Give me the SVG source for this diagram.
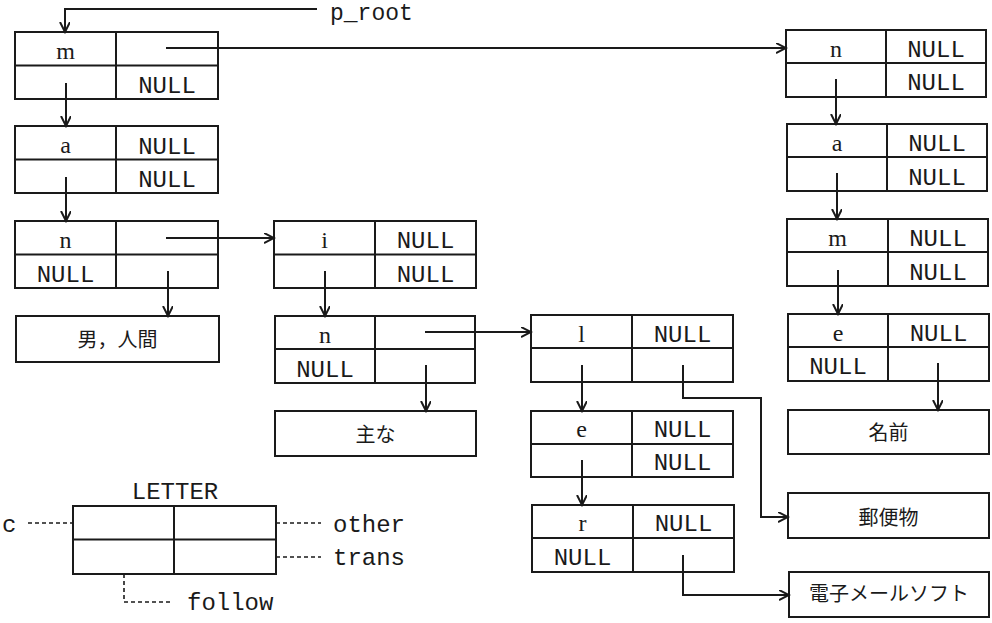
<svg xmlns="http://www.w3.org/2000/svg" width="992" height="623" viewBox="0 0 992 623">
<defs>
<marker id="ah" markerUnits="userSpaceOnUse" markerWidth="12" markerHeight="12" refX="10" refY="5" orient="auto">
<path d="M0,0 L10,5 L0,10" fill="none" stroke="#1a1a1a" stroke-width="2"/>
</marker>
</defs>
<style>
.b,line.d{fill:none;stroke:#1a1a1a;stroke-width:2}
.c line,.c polyline{fill:none;stroke:#1a1a1a;stroke-width:2;marker-end:url(#ah)}
.dash{fill:none;stroke:#1a1a1a;stroke-width:1.6;stroke-dasharray:4,3}
.m{font-family:"Courier New","Liberation Mono",monospace;font-size:24px;fill:#1a1a1a;text-anchor:middle}
.ml{font-family:"Courier New","Liberation Mono",monospace;font-size:24px;fill:#1a1a1a}
.s{font-family:"Liberation Serif",serif;font-size:24px;fill:#1a1a1a;text-anchor:middle}
.j{font-family:"Noto Sans CJK JP",sans-serif;font-size:20px;fill:#1a1a1a;text-anchor:middle}
</style>
<rect x="0" y="0" width="992" height="623" fill="#ffffff"/>

<g id="node-m1"><rect class="b" x="15" y="32" width="203" height="67"/><line class="d" x1="116" y1="32" x2="116" y2="99"/><line class="d" x1="15" y1="65.5" x2="218" y2="65.5"/><text class="s" x="65.5" y="59">m</text><text class="m" x="167" y="93">NULL</text></g>
<g id="node-a1"><rect class="b" x="15" y="126" width="203" height="67"/><line class="d" x1="116" y1="126" x2="116" y2="193"/><line class="d" x1="15" y1="159.5" x2="218" y2="159.5"/><text class="s" x="65.5" y="153">a</text><text class="m" x="167" y="154">NULL</text><text class="m" x="167" y="187">NULL</text></g>
<g id="node-n1"><rect class="b" x="15" y="221" width="203" height="67"/><line class="d" x1="116" y1="221" x2="116" y2="288"/><line class="d" x1="15" y1="254.5" x2="218" y2="254.5"/><text class="s" x="65.5" y="248">n</text><text class="m" x="65.5" y="282">NULL</text></g>
<g id="box-otoko"><rect class="b" x="16" y="316" width="203" height="46"/><text class="j" x="117.5" y="347">男，人間</text></g>

<g id="node-i"><rect class="b" x="274" y="221" width="202" height="67"/><line class="d" x1="375" y1="221" x2="375" y2="288"/><line class="d" x1="274" y1="254.5" x2="476" y2="254.5"/><text class="s" x="324.5" y="248">i</text><text class="m" x="425.5" y="248">NULL</text><text class="m" x="425.5" y="282">NULL</text></g>
<g id="node-n2"><rect class="b" x="275" y="316" width="200" height="67"/><line class="d" x1="375" y1="316" x2="375" y2="383"/><line class="d" x1="275" y1="349" x2="475" y2="349"/><text class="s" x="325" y="343">n</text><text class="m" x="325" y="377">NULL</text></g>
<g id="box-omona"><rect class="b" x="275" y="411" width="201" height="45"/><text class="j" x="375.5" y="442">主な</text></g>

<g id="node-l"><rect class="b" x="531" y="315" width="202" height="67"/><line class="d" x1="632" y1="315" x2="632" y2="382"/><line class="d" x1="531" y1="348" x2="733" y2="348"/><text class="s" x="581.5" y="342">l</text><text class="m" x="682.5" y="342">NULL</text></g>
<g id="node-e2"><rect class="b" x="531" y="411" width="202" height="66"/><line class="d" x1="632" y1="411" x2="632" y2="477"/><line class="d" x1="531" y1="444" x2="733" y2="444"/><text class="s" x="581.5" y="437">e</text><text class="m" x="682.5" y="437">NULL</text><text class="m" x="682.5" y="470">NULL</text></g>
<g id="node-r"><rect class="b" x="532" y="505" width="202" height="67"/><line class="d" x1="633" y1="505" x2="633" y2="572"/><line class="d" x1="532" y1="538" x2="734" y2="538"/><text class="s" x="582.5" y="531">r</text><text class="m" x="683.5" y="531">NULL</text><text class="m" x="582.5" y="565">NULL</text></g>

<g id="node-n3"><rect class="b" x="786" y="30" width="200" height="67"/><line class="d" x1="886" y1="30" x2="886" y2="97"/><line class="d" x1="786" y1="63" x2="986" y2="63"/><text class="s" x="836" y="57">n</text><text class="m" x="936" y="57">NULL</text><text class="m" x="936" y="90">NULL</text></g>
<g id="node-a3"><rect class="b" x="787" y="124" width="200" height="67"/><line class="d" x1="887" y1="124" x2="887" y2="191"/><line class="d" x1="787" y1="157" x2="987" y2="157"/><text class="s" x="837" y="151">a</text><text class="m" x="937" y="151">NULL</text><text class="m" x="937" y="185">NULL</text></g>
<g id="node-m3"><rect class="b" x="787" y="219" width="201" height="67"/><line class="d" x1="888" y1="219" x2="888" y2="286"/><line class="d" x1="787" y1="252" x2="988" y2="252"/><text class="s" x="837.5" y="246">m</text><text class="m" x="938" y="246">NULL</text><text class="m" x="938" y="280">NULL</text></g>
<g id="node-e3"><rect class="b" x="788" y="314" width="201" height="67"/><line class="d" x1="888" y1="314" x2="888" y2="381"/><line class="d" x1="788" y1="347" x2="989" y2="347"/><text class="s" x="838" y="341">e</text><text class="m" x="938.5" y="341">NULL</text><text class="m" x="838" y="374">NULL</text></g>
<g id="box-namae"><rect class="b" x="788" y="410" width="201" height="44"/><text class="j" x="888.5" y="440">名前</text></g>
<g id="box-yubin"><rect class="b" x="788" y="493" width="201" height="45"/><text class="j" x="888.5" y="525">郵便物</text></g>
<g id="box-denshi"><rect class="b" x="789" y="572" width="200" height="45"/><text class="j" x="889" y="601">電子メールソフト</text></g>

<g id="p-root"><text class="ml" x="330" y="20" style="font-size:23px">p_root</text></g>

<g id="legend">
<text class="m" x="175" y="499">LETTER</text>
<rect class="b" x="73" y="506" width="203" height="68"/>
<line class="d" x1="174" y1="506" x2="174" y2="574"/>
<line class="d" x1="73" y1="539.5" x2="276" y2="539.5"/>
<line class="dash" x1="28" y1="523" x2="73" y2="523"/>
<line class="dash" x1="276" y1="523" x2="321" y2="523"/>
<line class="dash" x1="276" y1="557" x2="321" y2="557"/>
<polyline class="dash" points="124,574 124,602 173,602"/>
<text class="ml" x="2" y="532">c</text>
<text class="ml" x="333" y="532">other</text>
<text class="ml" x="333" y="565">trans</text>
<text class="ml" x="187" y="610">follow</text>
</g>

<g id="connectors" class="c">
<polyline points="317,9 65,9 65,32"/>
<line x1="166" y1="48" x2="786" y2="48"/>
<line x1="66" y1="83" x2="66" y2="126"/>
<line x1="66" y1="177" x2="66" y2="221"/>
<line x1="166" y1="238" x2="274" y2="238"/>
<line x1="168" y1="271" x2="168" y2="316"/>
<line x1="325" y1="271" x2="325" y2="316"/>
<line x1="425" y1="332" x2="531" y2="332"/>
<line x1="426" y1="365" x2="426" y2="411"/>
<line x1="582" y1="365" x2="582" y2="411"/>
<line x1="582" y1="460" x2="582" y2="505"/>
<polyline points="683,365 683,398 761,398 761,517 788,517"/>
<polyline points="683,555 683,595 789,595"/>
<line x1="836" y1="79" x2="836" y2="124"/>
<line x1="837" y1="173" x2="837" y2="219"/>
<line x1="838" y1="270" x2="838" y2="314"/>
<line x1="938" y1="363" x2="938" y2="410"/>
</g>
</svg>
